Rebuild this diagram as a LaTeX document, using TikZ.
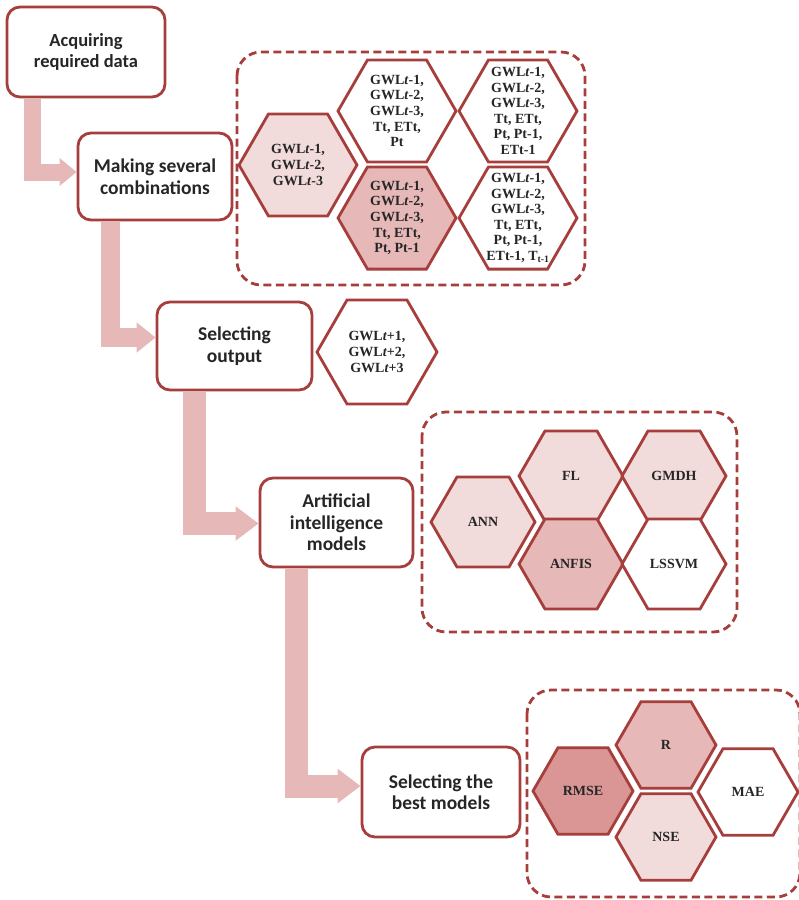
\documentclass[tikz,border=0pt]{standalone}
\usepackage{fontspec}
\setmainfont{Liberation Serif}
\newfontfamily\boxfont{Carlito}
\usetikzlibrary{shapes.geometric,arrows.meta,positioning}

\definecolor{rim}{RGB}{166,62,60}
\definecolor{flowpink}{RGB}{230,185,184}
\definecolor{hexlight}{RGB}{242,220,219}
\definecolor{hexmid}{RGB}{230,185,184}
\definecolor{hexdark}{RGB}{217,150,148}

\newcommand{\gwl}[1]{GWL\textit{t}#1}

\tikzset{
  stepbox/.style={draw=rim, line width=2.8pt, rounded corners=13pt, fill=white,
    align=center, inner sep=0pt, text=black!85,
    font=\boxfont\bfseries\fontsize{19.5}{21.5}\selectfont},
  hexa/.style={regular polygon, regular polygon sides=6, draw=rim,
    line width=2.8pt, inner sep=0pt, minimum size=#1},
  hextxt/.style={align=center, inner sep=0pt, text=black!85,
    font=\fontsize{14}{15.6}\selectfont\bfseries},
  group/.style={draw=rim, line width=2.8pt, dash pattern=on 8pt off 4.5pt,
    rounded corners=24pt},
  flow/.style={draw=flowpink, line width=#1, line join=miter,
    -{Triangle[length=0pt 1, width=10pt 1]}}
}

\begin{document}
\begin{tikzpicture}[x=1pt, y=-1pt]
  \useasboundingbox (0,0) rectangle (799,900);

  % dashed groups
  \draw[group] (237,52) rectangle (585,285);
  \draw[group] (422,412) rectangle (737,632);
  \draw[group] (527,690) rectangle (800,897);

  % input combinations
  \node[hexa=118pt, fill=hexlight, label={[hextxt]center:{\gwl{-1},\\\gwl{-2},\\\gwl{-3}}}] (c1) at (298,165) {};
  \node[hexa=118pt, fill=white, label={[hextxt]center:{\gwl{-1},\\\gwl{-2},\\\gwl{-3},\\Tt, ETt,\\Pt}}] (c2) at (397,111) {};
  \node[hexa=118pt, fill=hexmid, label={[hextxt]center:{\gwl{-1},\\\gwl{-2},\\\gwl{-3},\\Tt, ETt,\\Pt, Pt-1}}] (c3) at (397,218) {};
  \node[hexa=118pt, fill=white, label={[hextxt]center:{\gwl{-1},\\\gwl{-2},\\\gwl{-3},\\Tt, ETt,\\Pt, Pt-1,\\ETt-1}}] (c4) at (518,111) {};
  \node[hexa=118pt, fill=white, label={[hextxt]center:{\gwl{-1},\\\gwl{-2},\\\gwl{-3},\\Tt, ETt,\\Pt, Pt-1,\\ETt-1, T\textsubscript{t-1}}}] (c5) at (518,218) {};

  % output
  \node[hexa=120pt, fill=white, label={[hextxt]center:{\gwl{+1},\\\gwl{+2},\\\gwl{+3}}}] (out) at (377,352) {};

  % models
  \node[hexa=104pt, fill=hexlight, label={[hextxt]center:ANN}] (ann) at (483,522) {};
  \node[hexa=104pt, fill=hexlight, label={[hextxt]center:FL}] (fl) at (571,476) {};
  \node[hexa=104pt, fill=hexlight, label={[hextxt]center:GMDH}] (gmdh) at (674,476) {};
  \node[hexa=104pt, fill=hexmid, label={[hextxt]center:ANFIS}] (anfis) at (571,564) {};
  \node[hexa=104pt, fill=white, label={[hextxt]center:LSSVM}] (lssvm) at (674,564) {};

  % criteria
  \node[hexa=100pt, fill=hexdark, label={[hextxt]center:RMSE}] (rmse) at (583,791) {};
  \node[hexa=100pt, fill=hexmid, label={[hextxt]center:R}] (r) at (666,745) {};
  \node[hexa=100pt, fill=hexlight, label={[hextxt]center:NSE}] (nse) at (666,837) {};
  \node[hexa=100pt, fill=white, label={[hextxt]center:MAE}] (mae) at (748,792) {};

  % steps
  \node[stepbox, minimum width=158pt, minimum height=90pt,
    font=\boxfont\bfseries\fontsize{18.5}{21}\selectfont] (b1) at (86,52) {Acquiring\\required data};
  \node[stepbox, minimum width=154pt, minimum height=87pt] (b2) at (155,176.5) {Making several\\combinations};
  \node[stepbox, minimum width=155pt, minimum height=88pt] (b3) at (234.5,346) {Selecting\\output};
  \node[stepbox, minimum width=153pt, minimum height=89pt] (b4) at (336.5,522.5) {Artificial\\intelligence\\models};
  \node[stepbox, minimum width=158pt, minimum height=90pt] (b5) at (441,792) {Selecting the\\best models};

  \draw[flow=17pt] ([xshift=27pt]b1.south west) |- ([yshift=4.5pt]b2.west);
  \draw[flow=19pt] ([xshift=33.5pt]b2.south west) |- ([yshift=8.5pt]b3.west);
  \draw[flow=23pt] ([xshift=38.5pt]b3.south west) |- ([yshift=-1pt]b4.west);
  \draw[flow=23pt] ([xshift=38pt]b4.south west) |- ([yshift=6pt]b5.west);
\end{tikzpicture}
\end{document}
